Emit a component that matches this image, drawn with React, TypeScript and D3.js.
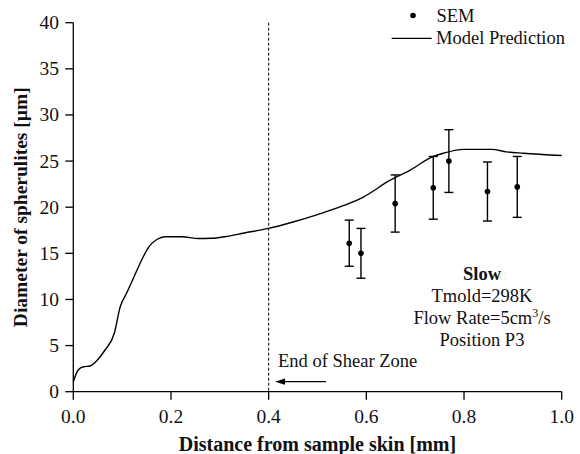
import React from "react";
import * as d3 from "d3";

const modelX = [0, 0.010, 0.021, 0.034, 0.048, 0.065, 0.084, 0.096, 0.109, 0.123, 0.140, 0.154, 0.171, 0.188, 0.222, 0.256, 0.283, 0.31, 0.35, 0.4, 0.45, 0.5, 0.539, 0.594, 0.648, 0.689, 0.737, 0.758, 0.799, 0.857, 0.887, 0.921, 1.0];
const modelY = [1.08, 2.35, 2.71, 2.78, 3.36, 4.52, 6.33, 9.2, 10.67, 12.3, 14.28, 15.65, 16.5, 16.8, 16.8, 16.6, 16.63, 16.8, 17.2, 17.7, 18.4, 19.2, 19.9, 21.1, 22.9, 24.0, 25.5, 25.85, 26.27, 26.27, 26.0, 25.85, 25.6];

const semX = [0.565, 0.589, 0.659, 0.737, 0.769, 0.848, 0.909];
const semY = [16.1, 15.0, 20.4, 22.1, 25.0, 21.7, 22.2];
const semErr = [2.5, 2.7, 3.1, 3.4, 3.4, 3.2, 3.3];

const xTicks = [0, 0.2, 0.4, 0.6, 0.8, 1.0];
const yTicks = [0, 5, 10, 15, 20, 25, 30, 35, 40];
const shearEnd = 0.4;

const FONT = "'Liberation Serif', Tinos, 'Times New Roman', Times, 'DejaVu Serif', serif";

export default function App() {
  const W = 580, H = 454;
  const x = d3.scaleLinear().domain([0, 1]).range([73.3, 561.7]);
  const y = d3.scaleLinear().domain([0, 40]).range([391.7, 22.7]);
  const ts = { fontFamily: FONT } as React.CSSProperties;
  const line = d3
    .line<number>()
    .x((_, i) => x(modelX[i]))
    .y((d) => y(d))
    .curve(d3.curveMonotoneX);

  return (
    <svg
      width={W}
      height={H}
      style={{ position: "absolute", left: 0, top: 0, background: "#fff", fontFamily: FONT }}
    >
      {/* axes */}
      <line x1={x(0)} x2={x(1)} y1={y(0)} y2={y(0)} stroke="#000" strokeWidth={1.3} />
      <line x1={x(0)} x2={x(0)} y1={y(0)} y2={y(40)} stroke="#000" strokeWidth={1.3} />
      {xTicks.map((t) => (
        <g key={"x" + t}>
          <line x1={x(t)} x2={x(t)} y1={y(0)} y2={y(0) + 8} stroke="#000" strokeWidth={1.3} />
          <text x={x(t)} y={422.5} textAnchor="middle" fontSize={19.5} fill="#111" style={ts}>
            {d3.format(".1f")(t)}
          </text>
        </g>
      ))}
      {yTicks.map((t) => (
        <g key={"y" + t}>
          <line x1={x(0) - 8} x2={x(0)} y1={y(t)} y2={y(t)} stroke="#000" strokeWidth={1.3} />
          <text x={59} y={y(t) + 6.5} textAnchor="end" fontSize={19.5} fill="#111" style={ts}>
            {t}
          </text>
        </g>
      ))}
      {/* axis titles */}
      <text x={317.5} y={450.5} textAnchor="middle" fontSize={20} fontWeight="bold" fill="#111" style={ts}>
        Distance from sample skin [mm]
      </text>
      <text
        transform={`translate(27,${(y(0) + y(40)) / 2}) rotate(-90)`}
        textAnchor="middle"
        fontSize={19.5}
        fontWeight="bold"
        fill="#111"
        style={ts}
      >
        Diameter of spherulites [µm]
      </text>
      {/* shear zone */}
      <line
        x1={x(shearEnd)}
        x2={x(shearEnd)}
        y1={y(40)}
        y2={y(0)}
        stroke="#000"
        strokeWidth={1}
        strokeDasharray="3,2"
      />
      <text x={278} y={367} fontSize={18.5} fill="#111" style={ts}>
        End of Shear Zone
      </text>
      <line x1={326} x2={282} y1={381.7} y2={381.7} stroke="#000" strokeWidth={1.3} />
      <path d="M275,381.7 L285,378.6 L285,384.8 Z" fill="#000" />
      {/* model */}
      <path d={line(modelY) || ""} fill="none" stroke="#000" strokeWidth={1.4} />
      {/* SEM */}
      {semX.map((sx, i) => (
        <g key={"s" + i}>
          <line x1={x(sx)} x2={x(sx)} y1={y(semY[i] - semErr[i])} y2={y(semY[i] + semErr[i])} stroke="#000" strokeWidth={1.4} />
          <line x1={x(sx) - 4.5} x2={x(sx) + 4.5} y1={y(semY[i] - semErr[i])} y2={y(semY[i] - semErr[i])} stroke="#000" strokeWidth={1.4} />
          <line x1={x(sx) - 4.5} x2={x(sx) + 4.5} y1={y(semY[i] + semErr[i])} y2={y(semY[i] + semErr[i])} stroke="#000" strokeWidth={1.4} />
          <circle cx={x(sx)} cy={y(semY[i])} r={2.8} fill="#000" />
        </g>
      ))}
      {/* legend */}
      <circle cx={413} cy={15.5} r={2.8} fill="#000" />
      <text x={436.5} y={21.7} fontSize={18.5} fill="#111" style={ts}>SEM</text>
      <line x1={391.7} x2={431.7} y1={38.3} y2={38.3} stroke="#000" strokeWidth={1.3} />
      <text x={436} y={43.5} fontSize={18.5} fill="#111" style={ts}>Model Prediction</text>
      {/* annotation */}
      <text x={482} y={280} textAnchor="middle" fontSize={18.5} fontWeight="bold" fill="#111" style={ts}>Slow</text>
      <text x={482} y={302} textAnchor="middle" fontSize={18.5} fill="#111" style={ts}>Tmold=298K</text>
      <text x={482} y={324.3} textAnchor="middle" fontSize={18.5} fill="#111" style={ts}>
        Flow Rate=5cm<tspan dy={-7} fontSize={12}>3</tspan><tspan dy={7}>/s</tspan>
      </text>
      <text x={482} y={346} textAnchor="middle" fontSize={18.5} fill="#111" style={ts}>Position P3</text>
    </svg>
  );
}
